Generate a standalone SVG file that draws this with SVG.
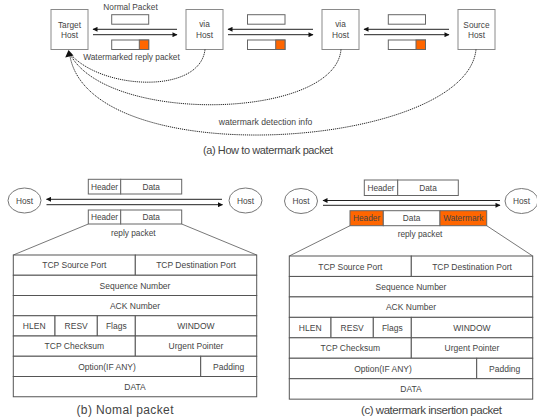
<svg xmlns="http://www.w3.org/2000/svg" width="537" height="420" viewBox="0 0 537 420">
<style>
text{font-family:"Liberation Sans",Arial,sans-serif;fill:#444;text-anchor:middle}
.lbl{font-size:8.3px}
.tb{font-size:8.5px}
.cap{font-size:11px}
.hbox{fill:#fff;stroke:#8a8a8a;stroke-width:1}
.pk{fill:#fff;stroke:#666;stroke-width:1}
.or{fill:#ff6600;stroke:#666;stroke-width:1}
.bl{fill:#99ccff}
.cell{fill:#fff;stroke:#555;stroke-width:1}
.ln{stroke:#222;stroke-width:1;fill:none}
.dot{stroke:#222;stroke-width:1;fill:none;stroke-dasharray:1.2 0.9}
.trap{stroke:#555;stroke-width:0.8;fill:none}
.circ{fill:#fff;stroke:#777;stroke-width:1}
</style>
<defs>
<marker id="ah" viewBox="0 0 10 10" refX="9" refY="5" markerWidth="6" markerHeight="5" orient="auto" markerUnits="userSpaceOnUse">
<path d="M0,0 L10,5 L0,10 z" fill="#111"/>
</marker>
</defs>

<!-- (a) nodes -->
<g id="target-host"><rect class="hbox" x="51" y="9.5" width="37" height="40"/><text class="lbl" x="69.5" y="28">Target</text><text class="lbl" x="69.5" y="38">Host</text></g>
<g id="via-host-1"><rect class="hbox" x="186" y="9.5" width="37" height="40"/><text class="lbl" x="204.5" y="27">via</text><text class="lbl" x="204.5" y="38">Host</text></g>
<g id="via-host-2"><rect class="hbox" x="322" y="9.5" width="37" height="40"/><text class="lbl" x="340.5" y="27">via</text><text class="lbl" x="340.5" y="38">Host</text></g>
<g id="source-host"><rect class="hbox" x="458" y="9.5" width="37" height="40"/><text class="lbl" x="476.5" y="28">Source</text><text class="lbl" x="476.5" y="38">Host</text></g>

<g id="packets-a">
<rect class="pk" x="111.7" y="14.7" width="37" height="9.5"/>
<rect class="pk" x="111.7" y="40" width="37" height="9.5"/><rect class="or" x="139.3" y="40" width="9.4" height="9.5"/>
<rect class="pk" x="247.5" y="14.7" width="37.5" height="9.5"/>
<rect class="pk" x="247.5" y="40" width="37.5" height="9.5"/><rect class="or" x="275.7" y="40" width="9.3" height="9.5"/>
<rect class="pk" x="388.3" y="14.7" width="37.2" height="9.5"/>
<rect class="pk" x="388.3" y="40" width="37.2" height="9.5"/><rect class="or" x="416" y="40" width="9.5" height="9.5"/>
<text class="lbl" x="130.5" y="10">Normal Packet</text>
<text class="lbl" x="131.5" y="60">Watermarked reply packet</text>
</g>

<g id="connectors">
<line class="ln" x1="177" y1="29.3" x2="93" y2="29.3" marker-end="url(#ah)"/>
<line class="ln" x1="93" y1="34.7" x2="177" y2="34.7" marker-end="url(#ah)"/>
<line class="ln" x1="313" y1="29.3" x2="228" y2="29.3" marker-end="url(#ah)"/>
<line class="ln" x1="228" y1="34.7" x2="313" y2="34.7" marker-end="url(#ah)"/>
<line class="ln" x1="449" y1="29.3" x2="364" y2="29.3" marker-end="url(#ah)"/>
<line class="ln" x1="364" y1="34.7" x2="449" y2="34.7" marker-end="url(#ah)"/>
<path class="dot" d="M205,49.5 C200,95 100,90 69.5,53"/>
<path class="dot" d="M341,49.5 C335,120 105,125 69.5,53"/>
<path class="dot" d="M476,49.5 C466,150 85,175 69.5,53"/>
<polygon points="68.5,50 65.2,57.5 73.5,55.5" fill="#111"/>
<line class="ln" x1="222" y1="199.3" x2="46.5" y2="199.3" marker-end="url(#ah)"/>
<line class="ln" x1="46.5" y1="204.7" x2="222.5" y2="204.7" marker-end="url(#ah)"/>
<line class="ln" x1="500" y1="200.5" x2="323" y2="200.5" marker-end="url(#ah)"/>
<line class="ln" x1="323" y1="205.3" x2="500" y2="205.3" marker-end="url(#ah)"/>
<line class="trap" x1="88.3" y1="224" x2="13.3" y2="255"/>
<line class="trap" x1="181.7" y1="224" x2="256.7" y2="255"/>
<line class="trap" x1="350" y1="225.7" x2="289.3" y2="256"/>
<line class="trap" x1="486.7" y1="225.7" x2="532.7" y2="256"/>
</g>
<text class="lbl" x="265.5" y="125" style="font-size:8.6px">watermark detection info</text>
<text class="cap" x="268" y="154" textLength="130" lengthAdjust="spacing">(a) How to watermark packet</text>

<!-- (b) -->
<g id="host-b-left"><ellipse class="circ" cx="24.5" cy="200.5" rx="16.5" ry="12.5"/><text class="lbl" x="24.5" y="203.5">Host</text></g>
<g id="host-b-right"><ellipse class="circ" cx="245.5" cy="200.5" rx="16.5" ry="12.5"/><text class="lbl" x="245.5" y="203.5">Host</text></g>
<g id="packet-b-top"><rect class="pk" x="88.3" y="179.3" width="32.4" height="14.7"/><rect class="pk" x="120.7" y="179.3" width="61" height="14.7"/><text class="lbl" x="104.5" y="189.5">Header</text><text class="lbl" x="151.2" y="189.5">Data</text></g>
<g id="packet-b-reply"><rect class="pk" x="88.3" y="210" width="32.4" height="14" /><rect class="pk" x="120.7" y="210" width="61" height="14"/><text class="lbl" x="104.5" y="220">Header</text><text class="lbl" x="151.2" y="220">Data</text><text class="lbl" x="133.3" y="236">reply packet</text></g>

<g id="table-b">
<rect class="cell" x="13.3" y="255" width="122" height="20.25"/><rect class="cell" x="135.3" y="255" width="121.4" height="20.25"/>
<rect class="cell" x="13.3" y="275.25" width="243.4" height="20.25"/>
<rect class="cell" x="13.3" y="295.5" width="243.4" height="20.25"/>
<rect class="cell" x="13.3" y="315.75" width="41.7" height="20.25"/><rect class="cell" x="55" y="315.75" width="42.3" height="20.25"/><rect class="cell" x="97.3" y="315.75" width="38" height="20.25"/><rect class="cell" x="135.3" y="315.75" width="121.4" height="20.25"/>
<rect class="cell" x="13.3" y="336" width="122" height="20.25"/><rect class="cell" x="135.3" y="336" width="121.4" height="20.25"/>
<rect class="cell" x="13.3" y="356.25" width="187.4" height="20.25"/><rect class="cell" x="200.7" y="356.25" width="56" height="20.25"/>
<rect class="cell" x="13.3" y="376.5" width="243.4" height="20.25"/>
<text class="tb" x="74.3" y="268.4">TCP Source Port</text><text class="tb" x="196" y="268.4">TCP Destination Port</text>
<text class="tb" x="135" y="288.6">Sequence Number</text>
<text class="tb" x="135" y="308.9">ACK Number</text>
<text class="tb" x="34.2" y="329.1">HLEN</text><text class="tb" x="76.2" y="329.1">RESV</text><text class="tb" x="116.3" y="329.1">Flags</text><text class="tb" x="196" y="329.1">WINDOW</text>
<text class="tb" x="74.3" y="349.4">TCP Checksum</text><text class="tb" x="196" y="349.4">Urgent Pointer</text>
<text class="tb" x="107" y="369.6">Option(IF ANY)</text><text class="tb" x="228.7" y="369.6">Padding</text>
<text class="tb" x="135" y="389.9">DATA</text>
</g>
<text class="cap" x="125" y="414" style="font-size:12px" textLength="97" lengthAdjust="spacing">(b) Nomal packet</text>

<!-- (c) -->
<g id="host-c-left"><ellipse class="circ" cx="301" cy="201" rx="16.5" ry="12.5"/><text class="lbl" x="301" y="204">Host</text></g>
<g id="host-c-right"><ellipse class="circ" cx="521.5" cy="201" rx="16.5" ry="12.5"/><text class="lbl" x="521.5" y="204">Host</text></g>
<g id="packet-c-top"><rect class="pk" x="364.3" y="180" width="33.4" height="15.5"/><rect class="pk" x="397.7" y="180" width="60.6" height="15.5"/><text class="lbl" x="381" y="190.5">Header</text><text class="lbl" x="428" y="190.5">Data</text></g>
<g id="packet-c-reply"><rect class="or" x="350" y="210.7" width="33.3" height="15"/><rect class="pk" x="383.3" y="210.7" width="56.7" height="15"/><rect class="or" x="440" y="210.7" width="46.7" height="15"/><text class="lbl" x="366.6" y="221">Header</text><text class="lbl" x="411.6" y="221">Data</text><text class="lbl" x="463.3" y="221">Watermark</text><text class="lbl" x="420" y="237">reply packet</text></g>

<g id="table-c">
<rect class="cell" x="289.3" y="256" width="122" height="20.45"/><rect class="cell" x="411.3" y="256" width="121.4" height="20.45"/>
<rect class="cell bl" x="289.3" y="276.45" width="243.4" height="20.45"/>
<rect class="cell" x="289.3" y="296.9" width="243.4" height="20.45"/>
<rect class="cell bl" x="289.3" y="317.35" width="41.7" height="20.45"/><rect class="cell" x="331" y="317.35" width="42.3" height="20.45"/><rect class="cell" x="373.3" y="317.35" width="38" height="20.45"/><rect class="cell" x="411.3" y="317.35" width="121.4" height="20.45"/>
<rect class="cell" x="289.3" y="337.8" width="122" height="20.45"/><rect class="cell" x="411.3" y="337.8" width="121.4" height="20.45"/>
<rect class="cell" x="289.3" y="358.25" width="187.4" height="20.45"/><rect class="cell bl" x="476.7" y="358.25" width="56" height="20.45"/>
<rect class="cell bl" x="289.3" y="378.7" width="243.4" height="20.45"/>
<text class="tb" x="350.3" y="269.5">TCP Source Port</text><text class="tb" x="472" y="269.5">TCP Destination Port</text>
<text class="tb" x="411" y="289.9">Sequence Number</text>
<text class="tb" x="411" y="310.4">ACK Number</text>
<text class="tb" x="310.2" y="330.8">HLEN</text><text class="tb" x="352.2" y="330.8">RESV</text><text class="tb" x="392.3" y="330.8">Flags</text><text class="tb" x="472" y="330.8">WINDOW</text>
<text class="tb" x="350.3" y="351.3">TCP Checksum</text><text class="tb" x="472" y="351.3">Urgent Pointer</text>
<text class="tb" x="383" y="371.7">Option(IF ANY)</text><text class="tb" x="504.7" y="371.7">Padding</text>
<text class="tb" x="411" y="392.2">DATA</text>
</g>
<text class="cap" x="431.5" y="414" style="font-size:11.5px" textLength="141" lengthAdjust="spacing">(c) watermark insertion packet</text>
</svg>
